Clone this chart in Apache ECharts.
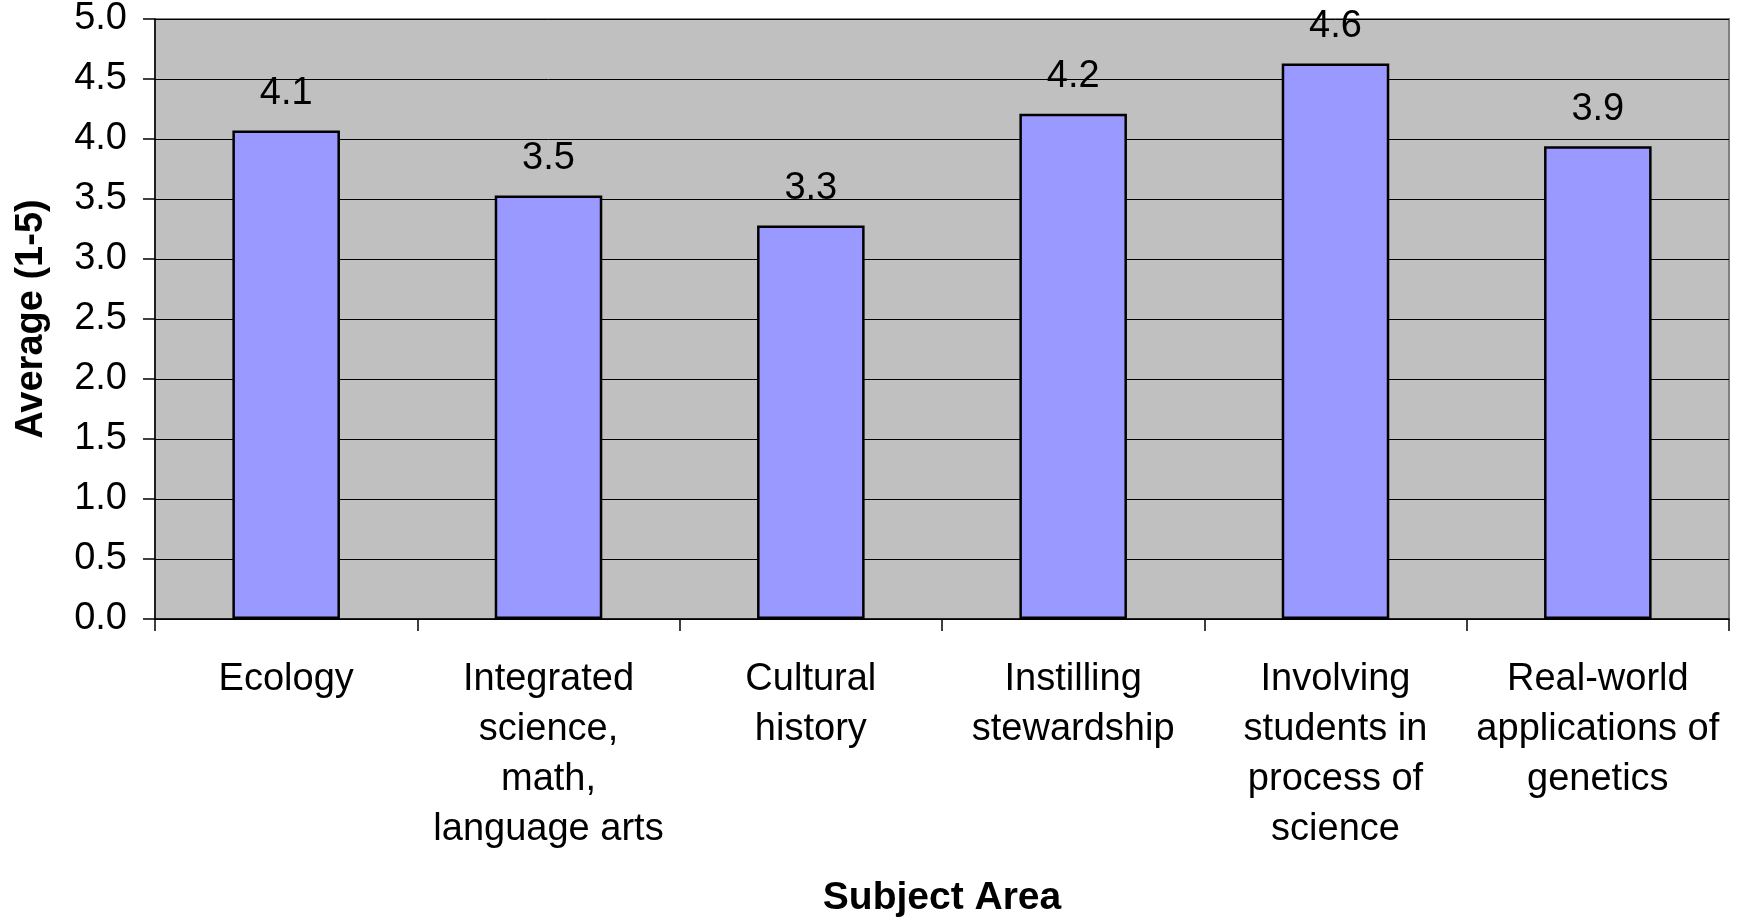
<!DOCTYPE html>
<html>
<head>
<meta charset="utf-8">
<script src="https://cdn.jsdelivr.net/npm/echarts@6/dist/echarts.min.js"></script>
<style>
  html, body { margin: 0; padding: 0; background: #ffffff; }
  #chart { width: 1740px; height: 919px; }
</style>
</head>
<body>
<div id="chart"></div>
<script>
const categories = [
  'Ecology',
  'Integrated\nscience,\nmath,\nlanguage arts',
  'Cultural\nhistory',
  'Instilling\nstewardship',
  'Involving\nstudents in\nprocess of\nscience',
  'Real-world\napplications of\ngenetics'
];
const averages = [4.07, 3.53, 3.28, 4.21, 4.63, 3.94];
const yTicks = { min: 0, max: 5, interval: 0.5 };
const xAxisTitle = 'Subject Area';
const yAxisTitle = 'Average (1-5)';

const FONT = '"Liberation Sans", Arial, sans-serif';
const chart = echarts.init(document.getElementById('chart'));
chart.setOption({
  animation: false,
  backgroundColor: '#ffffff',
  textStyle: { fontFamily: FONT },
  grid: {
    left: 155, right: 11, top: 19, bottom: 300,
    containLabel: false, outerBoundsMode: 'none',
    show: true, backgroundColor: '#C0C0C0', borderColor: '#808080', borderWidth: 2
  },
  xAxis: {
    type: 'category',
    data: categories,
    name: xAxisTitle,
    nameLocation: 'middle',
    nameGap: 260,
    nameTextStyle: { fontSize: 39, fontWeight: 'bold', color: '#000', fontFamily: FONT },
    axisLine: { show: true, lineStyle: { color: '#000', width: 1.5 } },
    axisTick: { show: true, alignWithLabel: false, length: 12, lineStyle: { color: '#000', width: 1.5 } },
    axisLabel: {
      interval: 0, margin: 36, fontSize: 38, lineHeight: 50, color: '#000', fontFamily: FONT, align: 'center'
    },
    splitLine: { show: false }
  },
  yAxis: {
    type: 'value',
    min: yTicks.min, max: yTicks.max, interval: yTicks.interval,
    name: yAxisTitle,
    nameLocation: 'middle',
    nameRotate: 90,
    nameGap: 104,
    nameTextStyle: { fontSize: 38, fontWeight: 'bold', color: '#000', fontFamily: FONT },
    axisLine: { show: true, lineStyle: { color: '#000', width: 1.5 } },
    axisTick: { show: true, length: 12, lineStyle: { color: '#000', width: 1.5 } },
    axisLabel: {
      margin: 28, fontSize: 38, color: '#000', fontFamily: FONT,
      formatter: v => v.toFixed(1)
    },
    splitLine: { show: true, lineStyle: { color: '#000', width: 1 } }
  },
  series: [{
    type: 'bar',
    data: averages,
    barWidth: '41%',
    itemStyle: { color: '#9999FF', borderColor: '#000', borderWidth: 2.5 },
    label: {
      show: true, position: 'top', distance: 18,
      fontSize: 38, color: '#000', fontFamily: FONT,
      formatter: p => p.value.toFixed(1)
    }
  }]
});
</script>
</body>
</html>
